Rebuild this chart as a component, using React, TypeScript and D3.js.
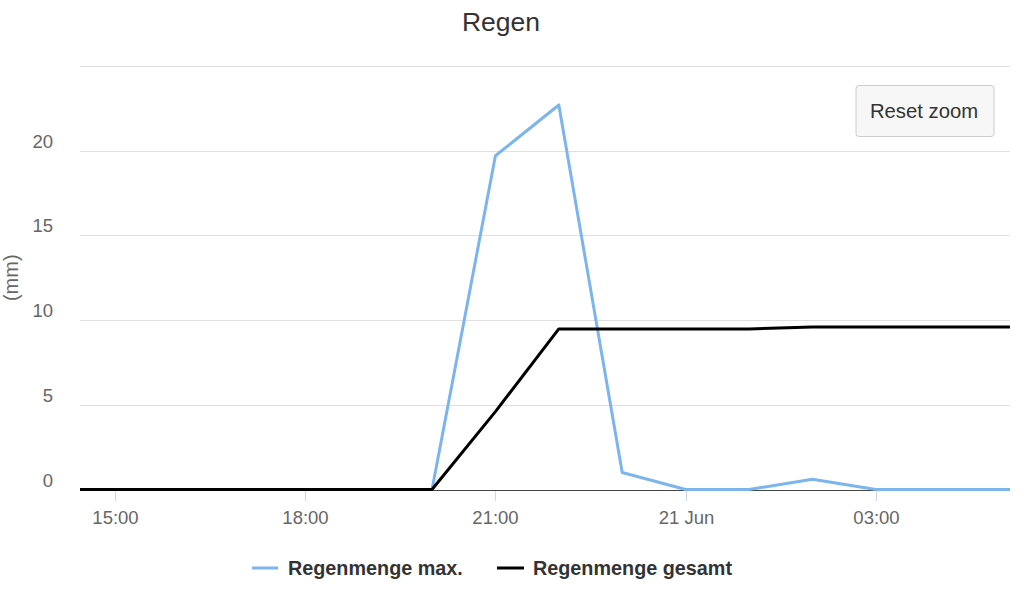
import React from "react";
import * as d3 from "d3";

const hours: string[] = [
  "2024-06-20T14:00", "2024-06-20T15:00", "2024-06-20T16:00", "2024-06-20T17:00",
  "2024-06-20T18:00", "2024-06-20T19:00", "2024-06-20T20:00", "2024-06-20T21:00",
  "2024-06-20T22:00", "2024-06-20T23:00", "2024-06-21T00:00", "2024-06-21T01:00",
  "2024-06-21T02:00", "2024-06-21T03:00", "2024-06-21T04:00", "2024-06-21T05:00",
  "2024-06-21T06:00",
];
const regenMax: number[] = [0, 0, 0, 0, 0, 0, 0, 19.7, 22.7, 1.0, 0, 0, 0.6, 0, 0, 0, 0];
const regenGesamt: number[] = [0, 0, 0, 0, 0, 0, 0, 4.6, 9.48, 9.48, 9.48, 9.48, 9.6, 9.6, 9.6, 9.6, 9.6];

const xDomain: string[] = ["2024-06-20T14:26:50", "2024-06-21T05:07:00"];
const xTickTimes: string[] = ["2024-06-20T15:00", "2024-06-20T18:00", "2024-06-20T21:00", "2024-06-21T00:00", "2024-06-21T03:00"];
const xTickLabels: string[] = ["15:00", "18:00", "21:00", "21 Jun", "03:00"];
const yGrid: number[] = [0, 5, 10, 15, 20, 25];
const yLabels: number[] = [0, 5, 10, 15, 20];

const seriesNames: string[] = ["Regenmenge max.", "Regenmenge gesamt"];
const seriesColors: string[] = ["#7cb5ec", "#000000"];

const FONT = "'Liberation Sans', Arial, Helvetica, sans-serif";

export default function App() {
  const W = 1024, H = 595;
  const left = 80, right = 1010, top = 66, bottom = 489.5;
  const parse = (s: string) => new Date(s);
  const x = d3.scaleTime().domain(xDomain.map(parse)).range([left, right]);
  const y = d3.scaleLinear().domain([0, 25]).range([bottom, top]);

  const mk = (vals: number[]) =>
    d3.line<number>()
      .x((_, i) => x(parse(hours[i])))
      .y((v) => y(v))(vals) || "";

  const series = [regenMax, regenGesamt];

  return (
    <svg width={W} height={H} style={{ position: "fixed", left: 0, top: 0, background: "#fff" }} fontFamily={FONT}>
      <defs>
        <clipPath id="plot">
          <rect x={left} y={top - 10} width={right - left} height={bottom - top + 12} />
        </clipPath>
      </defs>
      <rect x={0} y={0} width={W} height={H} fill="#fff" />
      <text x={501} y={31} textAnchor="middle" fontSize={26.5} fill="#333">Regen</text>

      {yGrid.map((v) => (
        <line key={"g" + v} x1={left} x2={right} y1={Math.round(y(v)) + 0.5} y2={Math.round(y(v)) + 0.5} stroke="#e0e0e0" strokeWidth={1} />
      ))}
      {yLabels.map((v) => (
        <text key={"yl" + v} x={53} y={y(v) - 3} textAnchor="end" fontSize={18.5} fill="#666">{v}</text>
      ))}
      <text transform={`translate(18,${(top + bottom) / 2}) rotate(-90)`} textAnchor="middle" fontSize={20} fill="#666">(mm)</text>

      <line x1={left} x2={right} y1={490.5} y2={490.5} stroke="#444" strokeWidth={1} />
      {xTickTimes.map((t, i) => {
        const px = Math.round(x(parse(t))) + 0.5;
        return (
          <g key={"xt" + i}>
            <line x1={px} x2={px} y1={491} y2={501} stroke="#ccd6eb" strokeWidth={1} />
            <text x={px} y={524} textAnchor="middle" fontSize={18.5} fill="#666">{xTickLabels[i]}</text>
          </g>
        );
      })}

      <g clipPath="url(#plot)">
        {series.map((s, i) => (
          <path key={"s" + i} d={mk(s)} fill="none" stroke={seriesColors[i]} strokeWidth={3} strokeLinejoin="round" strokeLinecap="round" />
        ))}
      </g>

      <g>
        <rect x={856} y={85.5} width={138} height={51} rx={3} fill="#f7f7f7" stroke="#cccccc" strokeWidth={1} />
        <text x={924} y={118} textAnchor="middle" fontSize={20.3} fill="#333">Reset zoom</text>
      </g>

      <g>
        <line x1={252} x2={278} y1={568} y2={568} stroke={seriesColors[0]} strokeWidth={3} />
        <text x={288} y={575} fontSize={19.8} fontWeight="bold" fill="#333">{seriesNames[0]}</text>
        <line x1={497} x2={524} y1={568} y2={568} stroke={seriesColors[1]} strokeWidth={3} />
        <text x={533} y={575} fontSize={19.8} fontWeight="bold" fill="#333">{seriesNames[1]}</text>
      </g>
    </svg>
  );
}
